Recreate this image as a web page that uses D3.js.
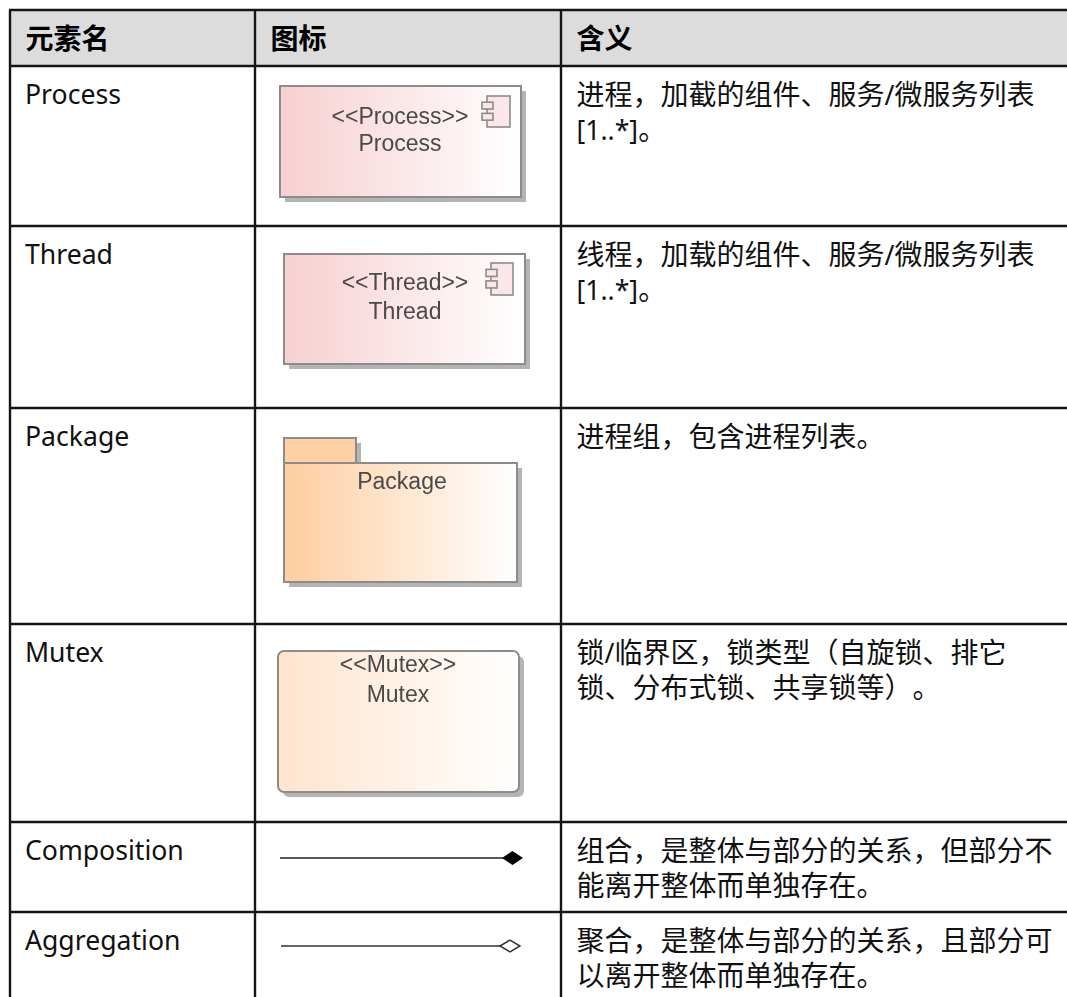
<!DOCTYPE html>
<html lang="zh-CN">
<head>
<meta charset="utf-8">
<script src="https://cdn.jsdelivr.net/npm/d3@7/dist/d3.min.js"></script>
<style>
html,body{margin:0;padding:0;background:#fff;overflow:hidden}
svg{display:block}
text{white-space:pre;text-spacing-trim:space-all;text-autospace:no-autospace;font-kerning:normal}
</style>
</head>
<body>
<div id="chart"></div>
<script>
const headers = ["元素名", "图标", "含义"];
const elementNames = ["Process", "Thread", "Package", "Mutex", "Composition", "Aggregation"];
const meanings = [
  ["进程，加截的组件、服务/微服务列表", "[1..*]。"],
  ["线程，加载的组件、服务/微服务列表", "[1..*]。"],
  ["进程组，包含进程列表。"],
  ["锁/临界区，锁类型（自旋锁、排它", "锁、分布式锁、共享锁等）。"],
  ["组合，是整体与部分的关系，但部分不", "能离开整体而单独存在。"],
  ["聚合，是整体与部分的关系，且部分可", "以离开整体而单独存在。"]
];
const iconLabels = [
  ["<<Process>>", "Process"],
  ["<<Thread>>", "Thread"],
  ["Package"],
  ["<<Mutex>>", "Mutex"]
];

// layout
const W = 1067, H = 997;
const columnKeys = ["name", "icon", "meaning"];
const columnEdges = [10, 255, 561];
const rowKeys = ["header", ...elementNames];
const rowEdges = [10, 66, 226, 408, 624, 822, 912];
const colX = d3.scaleOrdinal(columnKeys, columnEdges);
const rowY = d3.scaleOrdinal(rowKeys, rowEdges);
const LH = 35, FS = 28, FS_LATIN = 26.6, BORDER = "#151515";
const FONT = '"Noto Sans","Noto Sans CJK SC",sans-serif';
const CJK = '"Noto Sans CJK SC","Noto Sans",sans-serif';
const UML = '"Liberation Sans",Arial,sans-serif';

const svg = d3.select("#chart").append("svg").attr("width", W).attr("height", H);
const defs = svg.append("defs");
[["pink", "#f7cfd1"], ["orange", "#ffcda0"], ["peach", "#ffe4cd"]].forEach(([id, c]) => {
  const g = defs.append("linearGradient").attr("id", id);
  g.append("stop").attr("offset", "0").attr("stop-color", c);
  g.append("stop").attr("offset", "1").attr("stop-color", "#fff");
});
defs.append("filter").attr("id", "soft").attr("x", "-5%").attr("y", "-5%").attr("width", "110%").attr("height", "110%")
  .append("feGaussianBlur").attr("stdDeviation", 0.6);

// header band
svg.append("rect").attr("x", colX("name")).attr("y", rowY("header"))
  .attr("width", W - colX("name")).attr("height", rowY(elementNames[0]) - rowY("header")).attr("fill", "#dcdcdc");

// grid
svg.append("g").selectAll("line").data(rowKeys).join("line")
  .attr("x1", colX("name") - 1).attr("x2", W)
  .attr("y1", d => rowY(d)).attr("y2", d => rowY(d))
  .attr("stroke", BORDER).attr("stroke-width", 2.4);
svg.append("g").selectAll("line").data(columnKeys).join("line")
  .attr("x1", d => colX(d)).attr("x2", d => colX(d))
  .attr("y1", rowY("header")).attr("y2", H)
  .attr("stroke", BORDER).attr("stroke-width", 2.4);

// header text
svg.append("g").selectAll("text").data(headers).join("text")
  .attr("x", (d, i) => colX(columnKeys[i]) + 15.5).attr("y", 49)
  .attr("font-family", CJK).attr("font-weight", 700).attr("font-size", FS).attr("fill", "#000").text(d => d);

// names
svg.append("g").selectAll("text").data(elementNames).join("text")
  .attr("x", colX("name") + 15).attr("y", d => rowY(d) + 38)
  .attr("font-family", FONT).attr("font-size", FS_LATIN).attr("fill", "#111").text(d => d);

// meanings: latin runs are set slightly smaller than the CJK runs
const runs = s => s.match(/[\x00-\x7f]+|[^\x00-\x7f]+/g);
svg.append("g").selectAll("g").data(meanings).join("g")
  .attr("transform", (d, i) => `translate(${colX("meaning") + 15.5},${rowY(elementNames[i]) + 39})`)
  .selectAll("text").data(d => d).join("text")
  .attr("y", (d, i) => i * LH)
  .attr("fill", "#111")
  .selectAll("tspan").data(runs).join("tspan")
  .attr("font-family", d => /[\x00-\x7f]/.test(d) ? FONT : CJK)
  .attr("font-size", d => /[\x00-\x7f]/.test(d) ? FS_LATIN : FS)
  .text(d => d);

// icons
const icons = svg.append("g").attr("filter", "url(#soft)");
const SHADOW = "#b4b4b4", EDGE = "#8c8c8c", TXT = "#4a4a4a";

function shadowed(x, y, w, h, fill, r) {
  icons.append("rect").attr("x", x + 5).attr("y", y + 5).attr("width", w).attr("height", h).attr("rx", r).attr("fill", SHADOW);
  icons.append("rect").attr("x", x).attr("y", y).attr("width", w).attr("height", h).attr("rx", r)
    .attr("fill", `url(#${fill})`).attr("stroke", EDGE).attr("stroke-width", 2);
}
function labels(lines, cx, ys) {
  icons.selectAll(null).data(lines).join("text")
    .attr("x", cx).attr("y", (d, i) => ys[i]).attr("text-anchor", "middle")
    .attr("font-family", UML).attr("font-size", 23).attr("fill", TXT).text(d => d);
}
function component(x, y, w, h) {
  icons.append("rect").attr("x", x + 5).attr("y", y).attr("width", w - 5).attr("height", h)
    .attr("fill", "#fbe6e8").attr("stroke", EDGE).attr("stroke-width", 1.6);
  [0.2, 0.56].forEach(f => icons.append("rect").attr("x", x).attr("y", y + h * f)
    .attr("width", 11).attr("height", h * 0.22).attr("fill", "#fbe6e8").attr("stroke", EDGE).attr("stroke-width", 1.6));
}

shadowed(280, 86, 241, 111, "pink", 0);
labels(iconLabels[0], 400, [124, 151]);
component(482, 96, 28, 31);

shadowed(284, 254, 241, 110, "pink", 0);
labels(iconLabels[1], 405, [290, 319]);
component(486, 263, 27, 32);

// package
icons.append("rect").attr("x", 289).attr("y", 443).attr("width", 72).attr("height", 25).attr("fill", SHADOW);
shadowed(284, 463, 233, 119, "orange", 0);
icons.append("rect").attr("x", 284).attr("y", 438).attr("width", 72).attr("height", 25)
  .attr("fill", "#ffcfa6").attr("stroke", EDGE).attr("stroke-width", 2);
labels(iconLabels[2], 402, [489]);

shadowed(278, 651, 241, 141, "peach", 6);
labels(iconLabels[3], 398, [672, 702]);

// connectors
const diamond = (x0, x1, y, hh) => `M${x0},${y}L${(x0 + x1) / 2},${y - hh}L${x1},${y}L${(x0 + x1) / 2},${y + hh}Z`;
icons.append("line").attr("x1", 280).attr("x2", 503).attr("y1", 858).attr("y2", 858).attr("stroke", "#222").attr("stroke-width", 1.6);
icons.append("path").attr("d", diamond(502, 523, 858, 7)).attr("fill", "#000");
icons.append("line").attr("x1", 281).attr("x2", 500).attr("y1", 946).attr("y2", 946).attr("stroke", "#333").attr("stroke-width", 1.6);
icons.append("path").attr("d", diamond(500, 520, 946, 6)).attr("fill", "#fff").attr("stroke", "#333").attr("stroke-width", 1.5);
</script>
</body>
</html>
